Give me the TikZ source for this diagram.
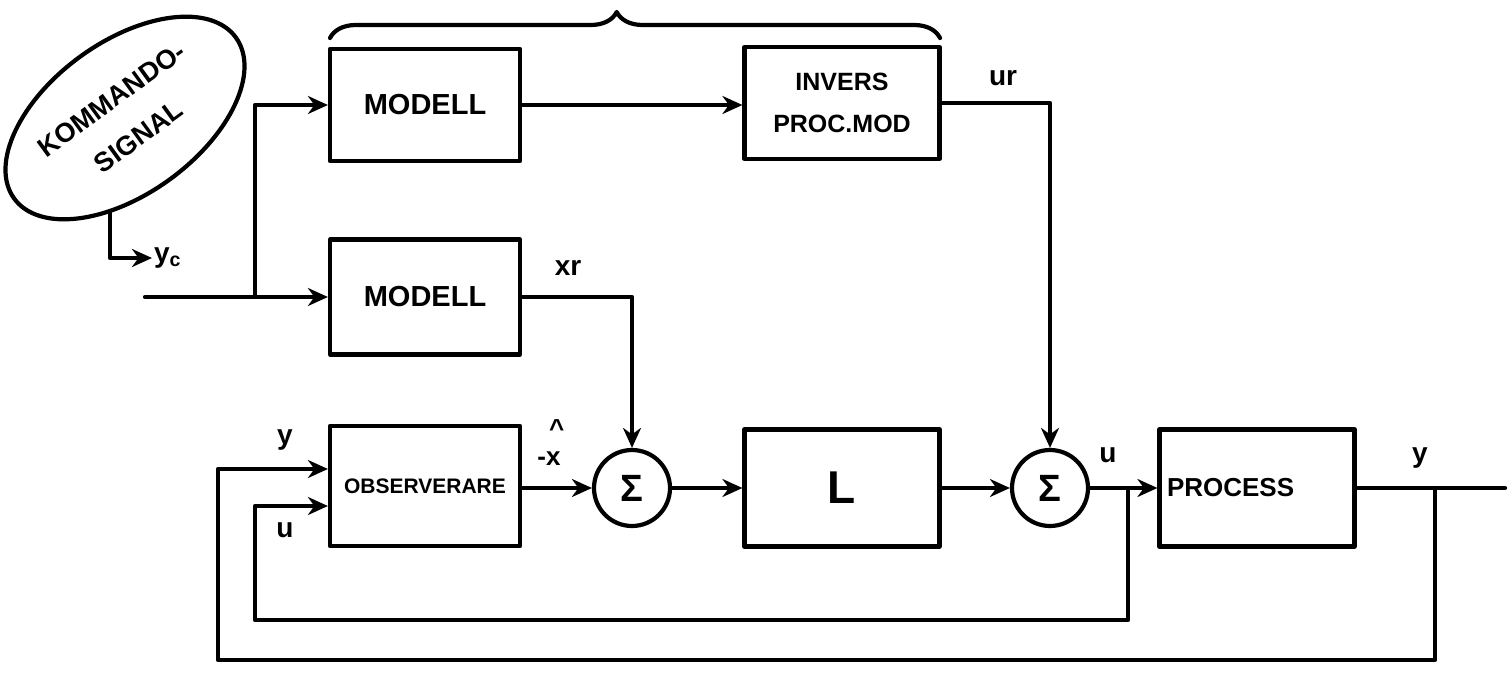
\documentclass[tikz,border=0pt]{standalone}
\usepackage{fontspec}
\setmainfont{Liberation Sans}
\usetikzlibrary{arrows.meta,shapes.geometric,decorations.pathreplacing,calc}
\begin{document}
\begin{tikzpicture}[x=1pt,y=-1pt, line width=4.2pt, line join=round, line cap=round,
 blk/.style={draw, rectangle, minimum width=190pt, minimum height=112pt, inner sep=0pt, font=\fontsize{29}{33}\selectfont\bfseries},
 sumnode/.style={draw, circle, minimum size=76pt, inner sep=0pt, font=\fontsize{38}{42}\selectfont\bfseries},
 lbl/.style={font=\fontsize{28}{32}\selectfont\bfseries, inner sep=0pt},
 arr/.style={-{Stealth[length=20pt,width=18pt]}}]
\useasboundingbox (0,0) rectangle (1509,674);
% command signal
\node[draw, ellipse, rotate=36, minimum width=274pt, minimum height=152pt, inner sep=0pt, align=center, font=\fontsize{27}{46}\selectfont\bfseries] (ks) at (125,118) {KOMMANDO-\\SIGNAL};
\node[lbl, anchor=west] (yc) at (152,258) {y\textsubscript{c}};
\draw[arr] (ks.225) |- (yc.west);
% blocks
\node[blk] (m1) at (425,105) {MODELL};
\node[blk, minimum width=195pt, align=center, font=\fontsize{25}{42}\selectfont\bfseries] (inv) at (842,103) {INVERS\\PROC.MOD};
\node[blk, minimum height=115pt] (m2) at (425,297) {MODELL};
\node[blk, minimum height=120pt, font=\fontsize{21}{25}\selectfont\bfseries] (obs) at (425,486) {OBSERVERARE};
\node[sumnode] (s1) at (632,488) {Σ};
\node[blk, minimum width=195pt, minimum height=117pt, font=\fontsize{46}{50}\selectfont\bfseries] (L) at (842,488) {L};
\node[sumnode] (s2) at (1050,488) {Σ};
\node[blk, minimum width=195pt, minimum height=117pt, text width=180pt, align=left, font=\fontsize{26}{30}\selectfont\bfseries] (proc) at (1257,488) {PROCESS};
% brace
\draw[decorate, decoration={brace, amplitude=26pt, aspect=0.47}] (330,38) -- (940,38);
% labels
\node[lbl] (ur) at (1003,78) {ur};
\node[lbl] (xr) at (568,268) {xr};
\node[lbl, align=center, font=\fontsize{26}{28}\selectfont\bfseries] (xh) at (549,443) {\hspace{0.6em}\textasciicircum\\-x};
\node[lbl] (ul) at (1108,455) {u};
\node[lbl] (yl) at (1420,458) {y};
\node[lbl] (yo) at (285,440) {y};
\node[lbl] (uo) at (285,530) {u};
% coordinates
\coordinate (in) at (145,297);
\coordinate (br) at (255,297);
\coordinate (out) at (1505,488);
\coordinate (ty) at (1435,488);
\coordinate (tu) at (1128,488);
\coordinate (obsy) at ($(obs.west)+(0,-17)$);
\coordinate (obsu) at ($(obs.west)+(0,20)$);
% connectors
\draw (in) -- (br);
\draw[arr] (br) -- (m2.west);
\draw[arr] (br) |- (m1.west);
\draw[arr] (m1.east) -- (m1.east -| inv.west);
\draw[arr] (inv.east) -| (s2.north);
\draw[arr] (m2.east) -| (s1.north);
\draw[arr] (obs.east |- s1.west) -- (s1.west);
\draw[arr] (s1.east) -- (L.west);
\draw[arr] (L.east) -- (s2.west);
\draw[arr] (s2.east) -- (proc.west);
\draw (proc.east) -- (out);
\draw[arr] (ty) |- (218,660) |- (obsy);
\draw[arr] (tu) |- (255,620) |- (obsu);
\end{tikzpicture}
\end{document}
